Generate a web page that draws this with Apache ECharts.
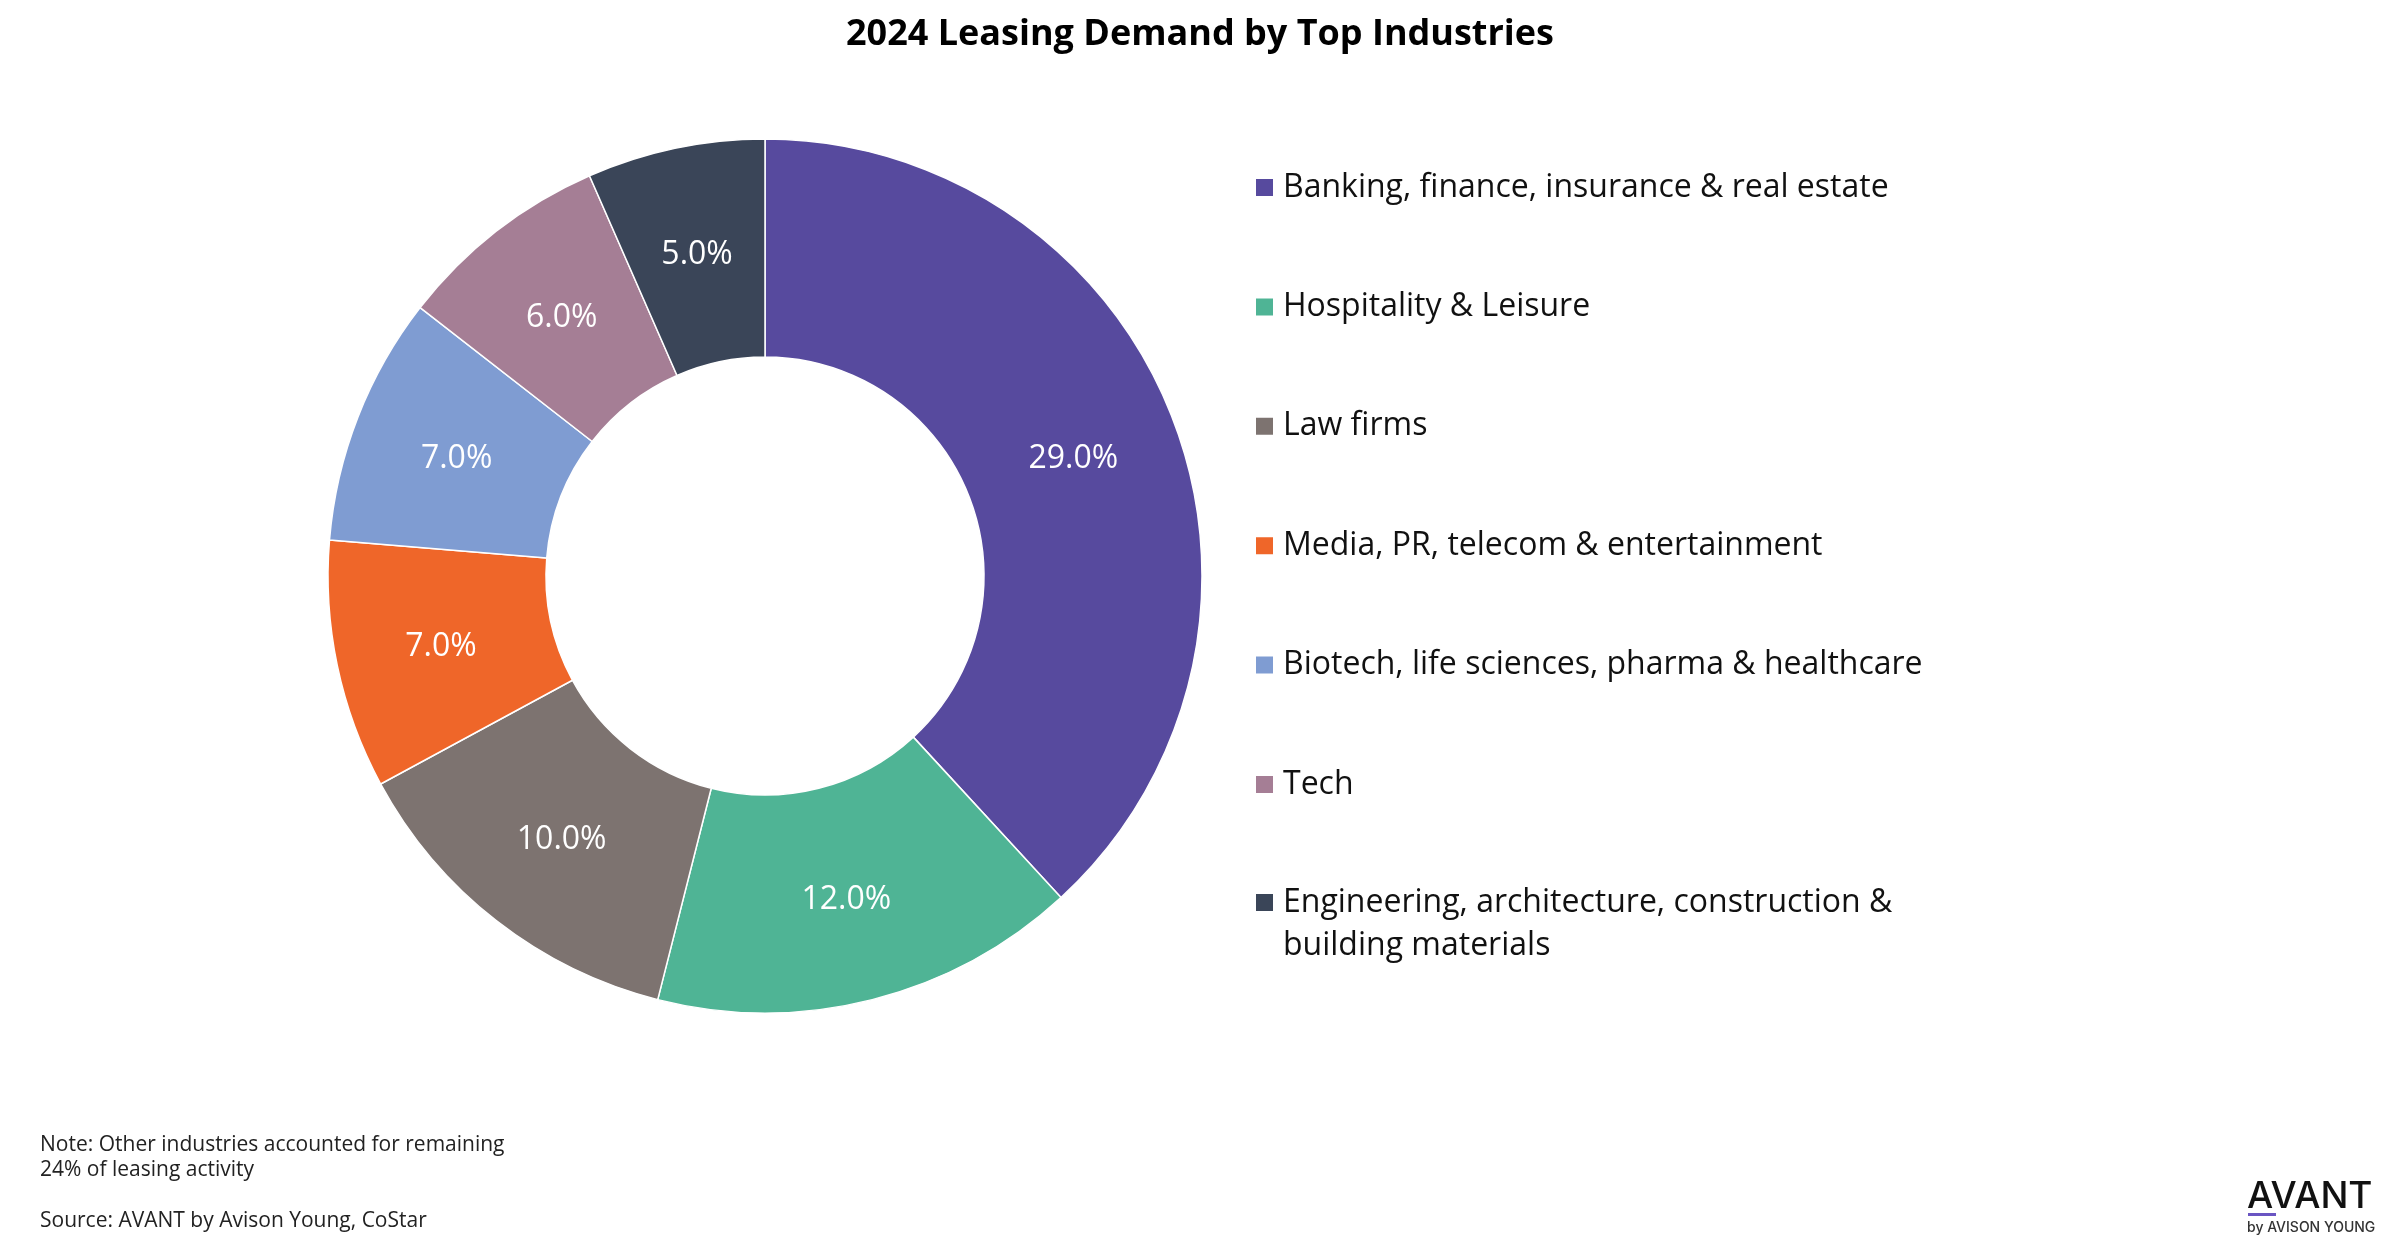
<!DOCTYPE html>
<html>
<head>
<meta charset="utf-8">
<script src="https://cdn.jsdelivr.net/npm/echarts@6/dist/echarts.min.js"></script>
<style>
  html, body { margin: 0; padding: 0; background: #ffffff; }
  #chart { width: 2400px; height: 1260px; }
</style>
</head>
<body>
<div id="chart"></div>
<script>
const categories = [
  'Banking, finance, insurance & real estate',
  'Hospitality & Leisure',
  'Law firms',
  'Media, PR, telecom & entertainment',
  'Biotech, life sciences, pharma & healthcare',
  'Tech',
  'Engineering, architecture, construction & building materials'
];
const shares = [29.0, 12.0, 10.0, 7.0, 7.0, 6.0, 5.0];
const sliceColors = ['#574A9E', '#4FB495', '#7D7370', '#EF6629', '#7F9CD2', '#A57E95', '#3A4558'];
const titleText = '2024 Leasing Demand by Top Industries';
const noteText = 'Note: Other industries accounted for remaining\n24% of leasing activity\n\nSource: AVANT by Avison Young, CoStar';

const FONT = '"Open Sans", "DejaVu Sans", sans-serif';
const chart = echarts.init(document.getElementById('chart'), null, { renderer: 'canvas' });

const pieData = categories.map((name, i) => ({
  name: name,
  value: shares[i],
  itemStyle: { color: sliceColors[i] }
}));

const legendText = {
  fontFamily: FONT,
  fontSize: 32,
  color: '#111111',
  lineHeight: 43,
  padding: [0, 0, 0, 4]
};

const option = {
  backgroundColor: '#ffffff',
  animation: false,
  title: [
    {
      text: titleText,
      left: 'center',
      top: 15,
      padding: 0,
      textStyle: { fontFamily: FONT, fontSize: 36, fontWeight: 'bold', color: '#000000', lineHeight: 40 }
    },
    {
      text: noteText,
      left: 40,
      top: 1132,
      padding: 0,
      textStyle: { fontFamily: FONT, fontSize: 21, fontWeight: 'normal', color: '#222222', lineHeight: 25.5 }
    }
  ],
  legend: [
    {
      orient: 'vertical',
      left: 1254,
      top: 166,
      padding: 0,
      itemWidth: 19,
      itemHeight: 19,
      itemGap: 76.4,
      icon: 'rect',
      selectedMode: false,
      data: categories.slice(0, 6),
      textStyle: legendText
    },
    {
      orient: 'vertical',
      left: 1254,
      top: 838,
      padding: 0,
      itemWidth: 19,
      itemHeight: 19,
      icon: 'rect',
      selectedMode: false,
      data: categories.slice(6),
      formatter: function (name) { return '\n' + name.replace('& building', '&\nbuilding'); },
      textStyle: legendText
    }
  ],
  series: [
    {
      type: 'pie',
      center: [765, 576],
      radius: [219, 437],
      startAngle: 90,
      clockwise: true,
      avoidLabelOverlap: false,
      data: pieData,
      itemStyle: { borderColor: '#ffffff', borderWidth: 1.5 },
      label: {
        show: true,
        position: 'inside',
        formatter: function (p) { return p.value.toFixed(1) + '%'; },
        fontFamily: FONT,
        fontSize: 32,
        color: '#ffffff',
        offset: [0, 3]
      },
      labelLine: { show: false },
      emphasis: { disabled: true }
    }
  ],
  graphic: [
    {
      type: 'text',
      left: 2247,
      top: 1178,
      style: { text: 'AVANT', fontFamily: 'Inter, "DejaVu Sans", sans-serif', fontSize: 37, fontWeight: 500, fill: '#111111' }
    },
    {
      type: 'rect',
      left: 2248,
      top: 1213,
      shape: { width: 28, height: 3 },
      style: { fill: '#6A55C2' }
    },
    {
      type: 'text',
      left: 2247,
      top: 1221,
      style: { text: 'by AVISON YOUNG', fontFamily: 'Inter, "DejaVu Sans", sans-serif', fontSize: 14, fontWeight: 500, fill: '#333333' }
    }
  ]
};

chart.setOption(option);
</script>
</body>
</html>
